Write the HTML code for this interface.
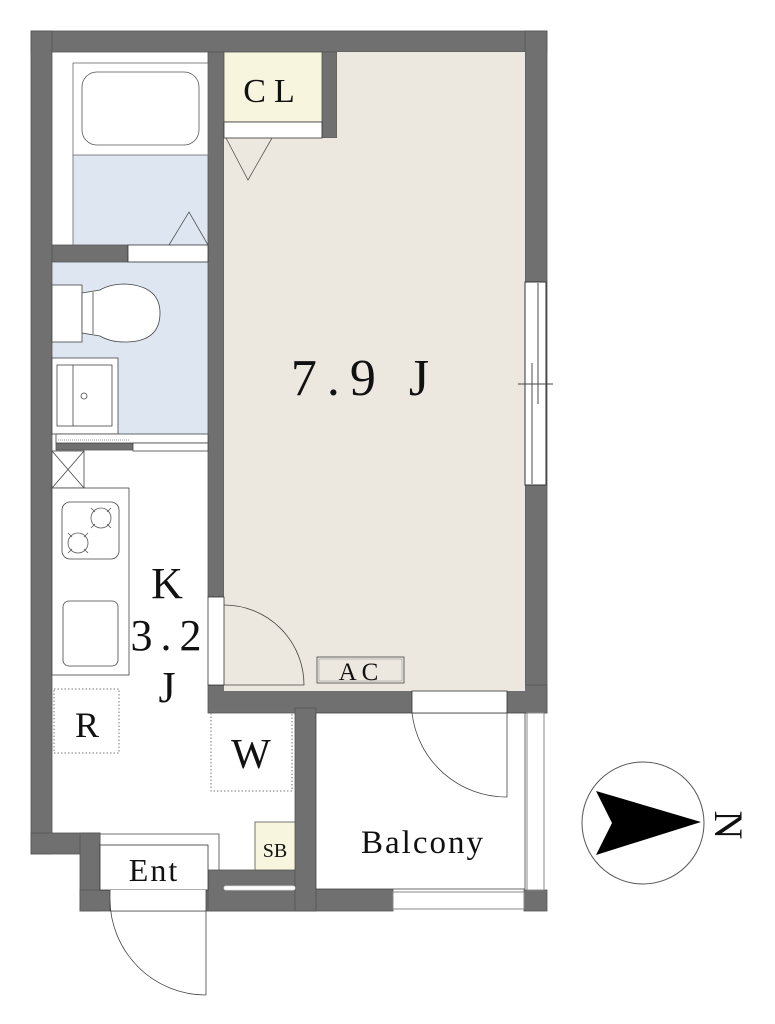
<!DOCTYPE html>
<html><head><meta charset="utf-8"><style>
html,body{margin:0;padding:0;background:#fff;}
svg{display:block;}
text{font-family:"Liberation Serif","Noto Serif CJK SC",serif;fill:#111;}
</style></head><body>
<svg width="775" height="1024" viewBox="0 0 775 1024" xmlns="http://www.w3.org/2000/svg">
<rect x="226" y="52" width="299" height="639" fill="#ece8df"/>
<rect x="52" y="52" width="156" height="193" fill="#fff"/>
<rect x="73" y="155" width="135" height="90" fill="#dee6f2"/>
<rect x="52" y="261" width="156" height="173" fill="#dee6f2"/>
<rect x="52" y="434" width="156" height="400" fill="#fff"/>
<g fill="#707070" stroke="#555" stroke-width="0.8">
<rect x="31" y="31" width="516" height="21"/>
<rect x="31" y="31" width="21" height="823"/>
<rect x="31" y="833" width="69" height="21"/>
<rect x="80" y="833" width="20" height="78"/>
<rect x="80" y="890" width="236" height="21"/>
<rect x="208" y="870" width="108" height="41"/>
<rect x="316" y="889" width="77" height="22"/>
<rect x="525" y="31" width="22" height="682"/>
<rect x="208" y="52" width="16" height="545"/>
<rect x="208" y="685" width="339" height="28"/>
<rect x="295" y="708" width="21" height="203"/>
<rect x="524" y="890" width="23" height="21"/>
<rect x="52" y="245" width="76" height="17"/>
<rect x="322" y="52" width="15" height="86"/>
<rect x="56" y="443" width="77" height="7"/>
</g>
<rect x="224" y="138" width="301" height="553" fill="#ece8df"/>
<rect x="337" y="52" width="188" height="86" fill="#ece8df"/>
<rect x="224" y="52" width="98" height="70" fill="#f7f5dd" stroke="#555" stroke-width="0.8"/>
<rect x="224" y="122" width="98" height="16" fill="#fff" stroke="#333" stroke-width="0.8"/>
<polyline points="226,138 248,180 272,138" fill="none" stroke="#555" stroke-width="0.8"/>
<text x="273" y="102" font-size="34" text-anchor="middle" letter-spacing="8">CL</text>
<rect x="73" y="63" width="135" height="92" fill="#fff" stroke="#666" stroke-width="0.8"/>
<rect x="82" y="72" width="117" height="73" rx="15" fill="#fff" stroke="#555" stroke-width="0.8"/>
<line x1="73" y1="155" x2="73" y2="245" stroke="#666" stroke-width="0.8"/>
<polyline points="169,245 189,212 208,245" fill="none" stroke="#555" stroke-width="0.8"/>
<rect x="128" y="245" width="80" height="17" fill="#fff" stroke="#333" stroke-width="0.8"/>
<rect x="52" y="285" width="30" height="57" fill="#fff" stroke="#444" stroke-width="0.8"/>
<path d="M82,293 L100,290 Q110,284 125,284 Q160,286 160,313 Q160,342 125,342 Q110,342 100,336 L82,333 Z" fill="#fff" stroke="#444" stroke-width="0.8"/>
<line x1="93" y1="292" x2="93" y2="334" stroke="#444" stroke-width="0.8"/>
<rect x="52" y="358" width="66" height="76" fill="#fff" stroke="#444" stroke-width="0.8"/>
<rect x="57" y="365" width="55" height="61" fill="#fff" stroke="#444" stroke-width="0.8"/>
<line x1="73" y1="365" x2="73" y2="426" stroke="#444" stroke-width="0.8"/>
<circle cx="84" cy="396" r="3" fill="#fff" stroke="#444" stroke-width="0.8"/>
<rect x="56" y="434" width="152" height="9" fill="#fff" stroke="#444" stroke-width="0.8"/>
<line x1="58" y1="440" x2="130" y2="440" stroke="#999" stroke-width="1" stroke-dasharray="1,1"/>
<rect x="133" y="443" width="75" height="8" fill="#fff" stroke="#444" stroke-width="0.8"/>
<rect x="52" y="451" width="32" height="37" fill="#fff" stroke="#444" stroke-width="0.8"/>
<path d="M52,451 L84,488 M84,451 L52,488" stroke="#444" stroke-width="0.8"/>
<rect x="52" y="488" width="77" height="187" fill="#fff" stroke="#444" stroke-width="0.8"/>
<rect x="62" y="502" width="57" height="57" rx="8" fill="#fff" stroke="#444" stroke-width="0.8"/>
<circle cx="101" cy="518" r="10" fill="none" stroke="#555" stroke-width="0.8"/>
<circle cx="78" cy="543" r="10" fill="none" stroke="#555" stroke-width="0.8"/>
<path d="M91,508l4,4M111,508l-4,4M91,528l4,-4M111,528l-4,-4M68,533l4,4M88,533l-4,4M68,553l4,-4M88,553l-4,-4" stroke="#555" stroke-width="0.8"/>
<rect x="63" y="601" width="55" height="65" rx="6" fill="#fff" stroke="#444" stroke-width="0.8"/>
<rect x="54" y="689" width="65" height="64" fill="none" stroke="#777" stroke-width="1" stroke-dasharray="1.5,2"/>
<rect x="211" y="711" width="81" height="80" fill="none" stroke="#777" stroke-width="1" stroke-dasharray="1.5,2"/>
<rect x="255" y="822" width="40" height="48" fill="#f7f5dd" stroke="#555" stroke-width="0.8"/>
<text x="275" y="857" font-size="20" text-anchor="middle">SB</text>
<rect x="208" y="597" width="16" height="88" fill="#fff" stroke="#333" stroke-width="0.8"/>
<path d="M224,605 A80,80 0 0 1 304,685 L224,685" fill="none" stroke="#444" stroke-width="0.8"/>
<rect x="317" y="657" width="87" height="26" fill="none" stroke="#444" stroke-width="0.8"/>
<rect x="319" y="659" width="83" height="22" fill="none" stroke="#999" stroke-width="0.6"/>
<text x="361" y="680" font-size="25" text-anchor="middle" letter-spacing="5">AC</text>
<rect x="525" y="282" width="21" height="203" fill="#fff" stroke="#333" stroke-width="1"/>
<line x1="538" y1="283" x2="538" y2="404" stroke="#888" stroke-width="1.5"/>
<line x1="532" y1="363" x2="532" y2="484" stroke="#888" stroke-width="1.5"/>
<line x1="518" y1="384" x2="553" y2="384" stroke="#444" stroke-width="1"/>
<path d="M100,834 L219,834 L219,870" fill="none" stroke="#444" stroke-width="0.8"/>
<rect x="100" y="845" width="108" height="45" fill="#fff" stroke="#333" stroke-width="0.8"/>
<rect x="110" y="890" width="96" height="21" fill="#fff"/>
<path d="M110,890 L110,911 M110,911 L206,911 M206,890 L206,995 M110,900 A96,96 0 0 0 206,995" fill="none" stroke="#444" stroke-width="0.8"/>
<rect x="224" y="886" width="71" height="4" rx="2" fill="#fff" stroke="#ddd" stroke-width="0.8"/>
<rect x="316" y="713" width="209" height="176" fill="#fff" stroke="#444" stroke-width="0.8"/>
<rect x="412" y="691" width="95" height="22" fill="#fff" stroke="#333" stroke-width="0.8"/>
<path d="M412,713 A95,95 0 0 0 507,797 L507,713" fill="none" stroke="#444" stroke-width="0.8"/>
<rect x="527" y="713" width="17" height="177" fill="#fff" stroke="#888" stroke-width="1"/>
<rect x="393" y="892" width="131" height="17" fill="#fff" stroke="#888" stroke-width="1"/>
<text x="365" y="395" font-size="52" text-anchor="middle" letter-spacing="10">7.9 J</text>
<text x="167" y="598" font-size="44" text-anchor="middle">K</text>
<text x="170" y="650" font-size="44" text-anchor="middle" letter-spacing="8">3.2</text>
<text x="167" y="702" font-size="44" text-anchor="middle">J</text>
<text x="87" y="737" font-size="36" text-anchor="middle">R</text>
<text x="251" y="768" font-size="42" text-anchor="middle">W</text>
<text x="154" y="881" font-size="32" text-anchor="middle" letter-spacing="2">Ent</text>
<text x="423" y="853" font-size="33" text-anchor="middle" letter-spacing="2">Balcony</text>
<circle cx="643" cy="823" r="61" fill="#fff" stroke="#555" stroke-width="1"/>
<polygon points="596,791 701,822 596,855 612,823" fill="#000"/>
<text x="724" y="825" font-size="40" text-anchor="middle" transform="rotate(90 724 825)" dominant-baseline="middle">N</text>
</svg>
</body></html>
